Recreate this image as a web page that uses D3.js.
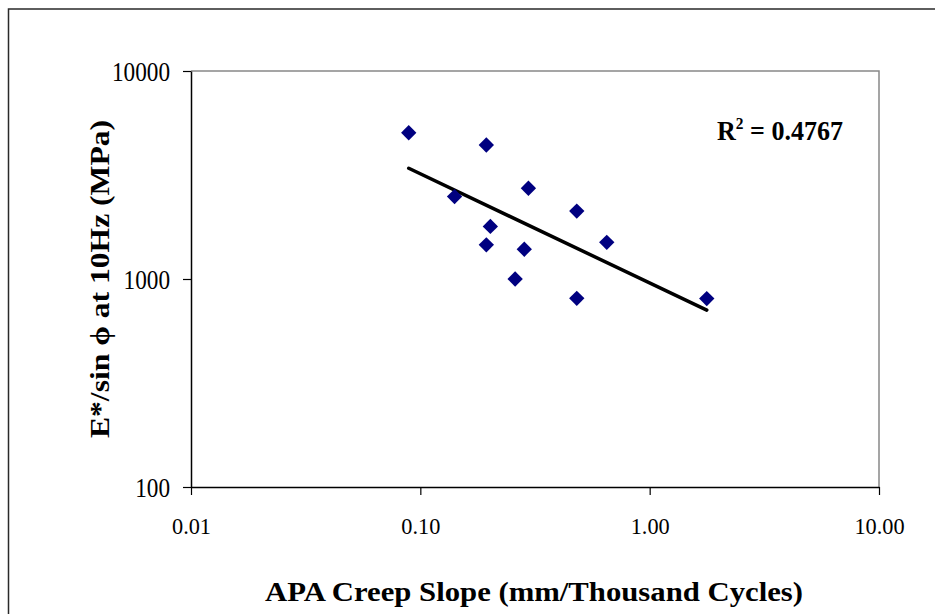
<!DOCTYPE html>
<html>
<head>
<meta charset="utf-8">
<script src="https://cdn.jsdelivr.net/npm/d3@7"></script>
<style>
  body { margin: 0; background: #fff; }
  svg { display: block; }
  svg text { font-family: 'Liberation Serif', 'Times New Roman', Tinos, serif; }
</style>
</head>
<body>
<svg id="chart" width="935" height="614"></svg>
<script>
// values
const creepSlope = [0.089, 0.194, 0.141, 0.296, 0.481, 0.202, 0.194, 0.284, 0.650, 0.259, 0.481, 1.774];
const modulus    = [5050, 4410, 2490, 2730, 2120, 1790, 1460, 1390, 1500, 1000, 807, 805];
const xTicks = [0.01, 0.1, 1, 10];
const yTicks = [100, 1000, 10000];
const xTitle = 'APA Creep Slope (mm/Thousand Cycles)';
const yTitle = 'E*/sin \u03D5  at 10Hz (MPa)';
const r2Text = '0.4767';

const svg = d3.select('#chart');
const plot = {left: 191, right: 879, top: 71, bottom: 487};

const x = d3.scaleLog().domain([0.01, 10]).range([plot.left, plot.right]);
const y = d3.scaleLog().domain([100, 10000]).range([plot.bottom, plot.top]);

// squeeze text horizontally a bit, the original type is narrow
function squeeze(sel, k) {
  sel.each(function() {
    const w = this.getComputedTextLength();
    d3.select(this).attr('textLength', w * k).attr('lengthAdjust', 'spacingAndGlyphs');
  });
}

// outer chart frame
svg.append('rect')
  .attr('x', 8.5).attr('y', 9)
  .attr('width', 1000).attr('height', 1000)
  .attr('fill', 'none').attr('stroke', '#2a2a2a').attr('stroke-width', 1.5);

// plot area border (top/right gray)
svg.append('path')
  .attr('d', `M${plot.left},${plot.top}H${plot.right}V${plot.bottom}`)
  .attr('fill', 'none').attr('stroke', '#888').attr('stroke-width', 1.5);

// axes
const xAxis = svg.append('g')
  .attr('transform', `translate(0,${plot.bottom})`)
  .call(d3.axisBottom(x).tickValues(xTicks).tickFormat(d3.format('.2f'))
    .tickSizeInner(8).tickSizeOuter(0).tickPadding(23));
xAxis.attr('font-family', null);
xAxis.select('.domain').attr('stroke', '#000').attr('stroke-width', 1.5);
xAxis.selectAll('.tick line').attr('stroke', '#000').attr('stroke-width', 1.2);
xAxis.selectAll('text')
  .attr('font-size', 23).attr('fill', '#000')
  .call(squeeze, 0.97);

const yAxis = svg.append('g')
  .attr('transform', `translate(${plot.left},0)`)
  .call(d3.axisLeft(y).tickValues(yTicks).tickFormat(d => d)
    .tickSizeInner(8).tickSizeOuter(0).tickPadding(13));
yAxis.attr('font-family', null);
yAxis.select('.domain').attr('stroke', '#000').attr('stroke-width', 1.5);
yAxis.selectAll('.tick line').attr('stroke', '#000').attr('stroke-width', 1.2);
yAxis.selectAll('text')
  .attr('font-size', 27).attr('fill', '#000')
  .attr('dy', '0.34em')
  .call(squeeze, 0.86);

// power trendline fitted in log-log space
const pts = creepSlope.map((v, i) => [Math.log10(v), Math.log10(modulus[i])]);
const mx = d3.mean(pts, p => p[0]);
const my = d3.mean(pts, p => p[1]);
const slope = d3.sum(pts, p => (p[0] - mx) * (p[1] - my)) / d3.sum(pts, p => (p[0] - mx) ** 2);
const icpt = my - slope * mx;
const fit = v => Math.pow(10, icpt + slope * Math.log10(v));
const xr = d3.extent(creepSlope);

svg.append('path')
  .datum(xr.map(v => [v, fit(v)]))
  .attr('d', d3.line().x(d => x(d[0])).y(d => y(d[1])))
  .attr('fill', 'none').attr('stroke', '#000').attr('stroke-width', 3.5)
  .attr('stroke-linecap', 'round');

// points
svg.append('g')
  .selectAll('path')
  .data(creepSlope.map((v, i) => [v, modulus[i]]))
  .join('path')
    .attr('transform', d => `translate(${x(d[0])},${y(d[1])})`)
    .attr('d', d3.symbol(d3.symbolDiamond2, 150))
    .attr('fill', '#000080');

// R squared label
const r2 = svg.append('text')
  .attr('x', 717).attr('y', 140)
  .attr('font-size', 27).attr('font-weight', 'bold').attr('fill', '#000');
r2.append('tspan').text('R');
r2.append('tspan').attr('dy', -11).attr('font-size', 16).text('2');
r2.append('tspan').attr('dy', 11).text(` = ${r2Text}`);
r2.attr('textLength', 126).attr('lengthAdjust', 'spacingAndGlyphs');

// axis titles
svg.append('text')
  .attr('x', 534).attr('y', 601)
  .attr('text-anchor', 'middle')
  .attr('font-size', 27).attr('font-weight', 'bold').attr('fill', '#000')
  .text(xTitle)
  .attr('textLength', 538).attr('lengthAdjust', 'spacingAndGlyphs');

svg.append('text')
  .attr('transform', `translate(109,${(plot.top + plot.bottom) / 2}) rotate(-90)`)
  .attr('text-anchor', 'middle')
  .attr('font-size', 27).attr('font-weight', 'bold').attr('fill', '#000')
  .text(yTitle)
  .attr('textLength', 318).attr('lengthAdjust', 'spacingAndGlyphs');
</script>
</body>
</html>
